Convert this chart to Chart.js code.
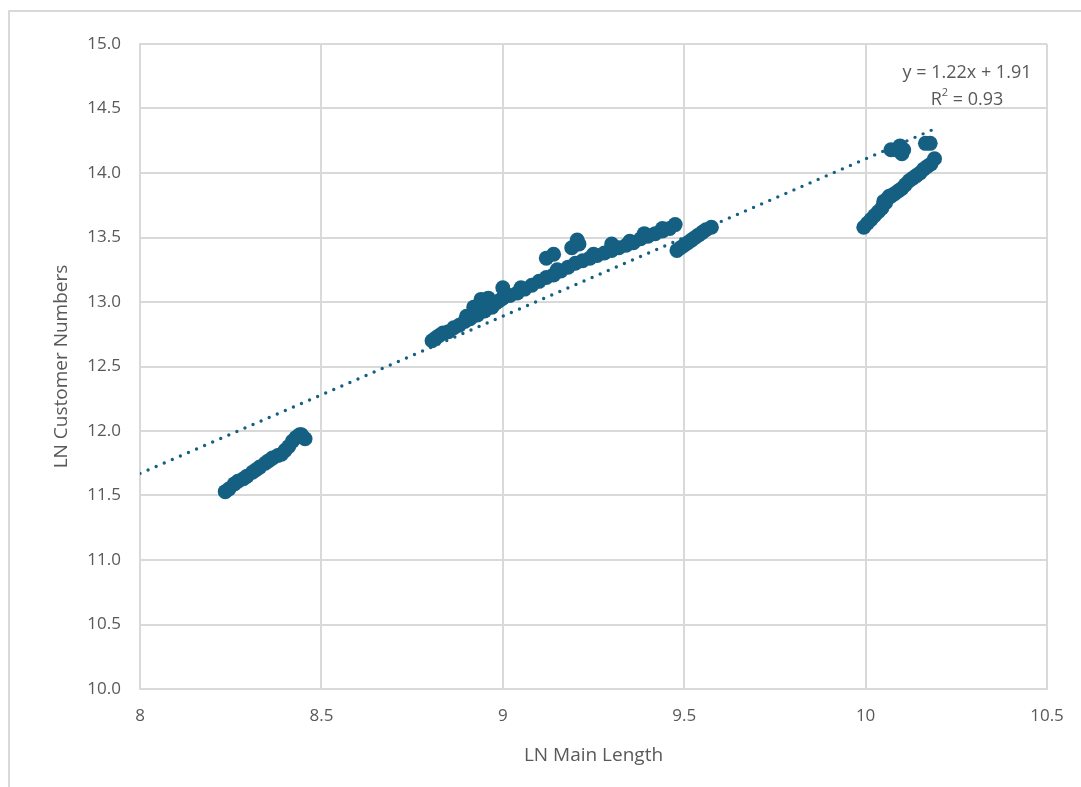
<!DOCTYPE html>
<html>
<head>
<meta charset="utf-8">
<script src="https://cdn.jsdelivr.net/npm/chart.js@4.4.1/dist/chart.umd.min.js"></script>
<style>
  html, body { margin: 0; padding: 0; background: #ffffff; overflow: hidden; }
  #frame { position: absolute; left: 8px; top: 10px; width: 1200px; height: 900px; border: 2px solid #d9d9d9; box-sizing: border-box; }
  #wrap { position: absolute; left: 0; top: 0; width: 1081px; height: 787px; }
</style>
</head>
<body>
<div id="frame"></div>
<div id="wrap"><canvas id="c" width="1081" height="787"></canvas></div>
<script>
// ---- Data ----
const lnMainLength = [
  // cluster A
  8.235, 8.245, 8.26, 8.27, 8.285, 8.295, 8.31, 8.32, 8.33, 8.345, 8.355, 8.365, 8.38, 8.39, 8.40, 8.41, 8.42, 8.43, 8.44, 8.445, 8.455,
  // cluster B
  8.805, 8.815, 8.825, 8.835, 8.85, 8.865, 8.88, 8.895, 8.91, 8.92, 8.93, 8.94, 8.95, 8.96, 8.97, 8.98, 8.99, 9.00, 9.00,
  9.02, 9.04, 9.06, 9.08, 9.10, 9.12, 9.14, 9.16, 9.18, 9.20, 9.22, 9.24, 9.26, 9.28, 9.30, 9.32, 9.34, 9.36, 9.38, 9.40,
  9.42, 9.44, 9.46, 9.475, 9.30, 9.39, 9.44, 9.12, 9.14, 9.19, 9.205, 9.21,
  8.90, 8.945, 8.965, 9.05, 9.15, 9.25, 9.35,
  // cluster C
  9.48, 9.49, 9.50, 9.51, 9.52, 9.53, 9.54, 9.55, 9.56, 9.575,
  // cluster D
  9.995, 10.005, 10.015, 10.025, 10.035, 10.045, 10.055, 10.06, 10.07, 10.08, 10.09, 10.10, 10.11, 10.12, 10.13, 10.14,
  10.15, 10.16, 10.17, 10.18, 10.19, 10.07, 10.085, 10.095, 10.10, 10.105, 10.165, 10.178, 10.05, 10.065
];
const lnCustomerNumbers = [
  11.53, 11.55, 11.59, 11.61, 11.63, 11.65, 11.68, 11.70, 11.72, 11.75, 11.77, 11.79, 11.81, 11.82, 11.85, 11.88, 11.92, 11.95, 11.97, 11.97, 11.94,
  12.70, 12.72, 12.74, 12.76, 12.77, 12.80, 12.82, 12.85, 12.87, 12.96, 12.90, 13.02, 12.93, 13.03, 12.96, 12.99, 13.01, 13.11, 13.03,
  13.05, 13.07, 13.10, 13.13, 13.16, 13.19, 13.21, 13.24, 13.27, 13.30, 13.32, 13.34, 13.36, 13.38, 13.40, 13.42, 13.44, 13.46, 13.49, 13.51,
  13.53, 13.55, 13.57, 13.60, 13.45, 13.53, 13.57, 13.34, 13.37, 13.42, 13.48, 13.45,
  12.89, 12.97, 12.99, 13.11, 13.25, 13.37, 13.47,
  13.40, 13.42, 13.44, 13.46, 13.48, 13.50, 13.52, 13.54, 13.56, 13.58,
  13.58, 13.61, 13.64, 13.67, 13.70, 13.73, 13.77, 13.80, 13.82, 13.84, 13.86, 13.88, 13.91, 13.94, 13.96, 13.98,
  14.00, 14.03, 14.05, 14.07, 14.11, 14.18, 14.18, 14.21, 14.15, 14.18, 14.23, 14.23, 13.78, 13.82
];
const trendSlope = 1.22;
const trendIntercept = 1.91;
const trendRange = [8, 10.19];
const xTicks = [8, 8.5, 9, 9.5, 10, 10.5];
const yTicks = [10.0, 10.5, 11.0, 11.5, 12.0, 12.5, 13.0, 13.5, 14.0, 14.5, 15.0];
const equationText = "y = 1.22x + 1.91";
const r2Value = "0.93";

const points = lnMainLength.map((x, i) => ({ x: x, y: lnCustomerNumbers[i] }));
const trendPoints = trendRange.map(x => ({ x: x, y: trendSlope * x + trendIntercept }));

const SERIES = '#156082';
const TEXT = '#595959';
const GRID = '#d9d9d9';
const FONT = "'Open Sans', 'Liberation Sans', sans-serif";

const equationPlugin = {
  id: 'equation',
  afterDatasetsDraw(chart) {
    const { ctx, chartArea } = chart;
    const cx = chartArea.right - 80;
    const ys = chart.scales.y;
    ctx.save();
    ctx.fillStyle = TEXT;
    ctx.textBaseline = 'middle';
    ctx.textAlign = 'center';
    ctx.font = "18px " + FONT;
    const y1 = ys.getPixelForValue(14.78);
    ctx.fillText(equationText, cx, y1);
    // R² line
    const y2 = ys.getPixelForValue(14.57);
    const partR = "R";
    const partRest = " = " + r2Value;
    const wR = ctx.measureText(partR).width;
    const wRest = ctx.measureText(partRest).width;
    ctx.font = "11px " + FONT;
    const wSup = ctx.measureText("2").width;
    const total = wR + wSup + wRest;
    let x = cx - total / 2;
    ctx.textAlign = 'left';
    ctx.font = "18px " + FONT;
    ctx.fillText(partR, x, y2);
    x += wR;
    ctx.font = "11px " + FONT;
    ctx.fillText("2", x, y2 - 7);
    x += wSup;
    ctx.font = "18px " + FONT;
    ctx.fillText(partRest, x, y2);
    ctx.restore();
  }
};

new Chart(document.getElementById('c'), {
  type: 'scatter',
  data: {
    datasets: [
      {
        type: 'line',
        label: 'Trend',
        data: trendPoints,
        borderColor: SERIES,
        borderWidth: 3.4,
        borderDash: [0, 8.8],
        borderCapStyle: 'round',
        pointRadius: 0,
        fill: false,
        order: 0
      },
      {
        label: 'Data',
        data: points,
        pointRadius: 7.5,
        pointHoverRadius: 7.5,
        pointBackgroundColor: SERIES,
        pointBorderColor: SERIES,
        pointBorderWidth: 0,
        order: 1
      }
    ]
  },
  options: {
    responsive: false,
    animation: false,
    devicePixelRatio: 1,
    layout: { padding: { left: 0, top: 44, right: 34, bottom: 0 } },
    plugins: { legend: { display: false }, tooltip: { enabled: false } },
    scales: {
      x: {
        type: 'linear',
        min: 8, max: 10.5,
        afterBuildTicks: s => { s.ticks = xTicks.map(v => ({ value: v })); },
        afterFit: s => { s.height = 98; },
        ticks: {
          color: TEXT, font: { family: FONT, size: 17 }, padding: 17,
          callback: v => String(v)
        },
        grid: { color: GRID, lineWidth: 2, drawTicks: false },
        border: { color: GRID, width: 2 },
        title: {
          display: true, text: 'LN Main Length', color: TEXT,
          font: { family: FONT, size: 19 }, padding: { top: 0, bottom: 20 }
        }
      },
      y: {
        type: 'linear',
        min: 10, max: 15,
        afterBuildTicks: s => { s.ticks = yTicks.map(v => ({ value: v })); },
        afterFit: s => { s.width = 140; },
        ticks: {
          color: TEXT, font: { family: FONT, size: 17 }, padding: 19,
          callback: v => Number(v).toFixed(1)
        },
        grid: { color: GRID, lineWidth: 2, drawTicks: false },
        border: { color: GRID, width: 2 },
        title: {
          display: true, text: 'LN Customer Numbers', color: TEXT,
          font: { family: FONT, size: 19 }, padding: { top: 50, bottom: 0 }
        }
      }
    }
  },
  plugins: [equationPlugin]
});
</script>
</body>
</html>
